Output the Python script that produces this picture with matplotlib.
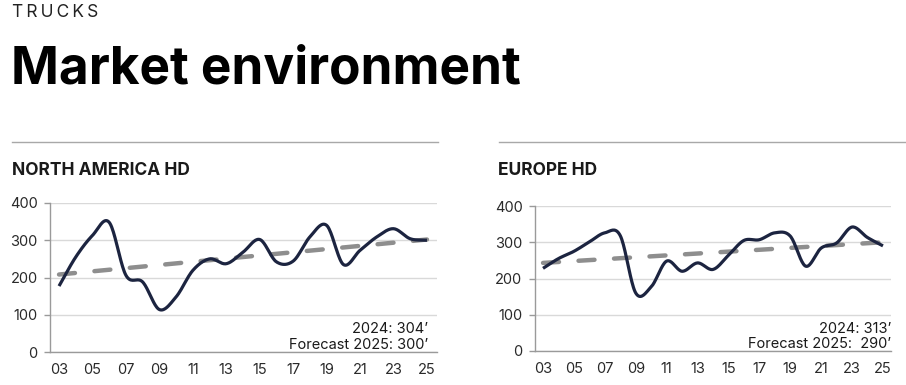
"""Trucks market environment: North America HD and Europe HD annual registrations with trend."""
import numpy as np
import matplotlib
matplotlib.use("Agg")
import matplotlib.pyplot as plt

plt.rcParams["font.family"] = ["Inter", "DejaVu Sans"]

YEARS = list(range(2003, 2026))
TICK_YEARS = list(range(2003, 2026, 2))
TICK_LABELS = [f"{y % 100:02d}" for y in TICK_YEARS]

# thousand units
NA_VALUES = [177, 255, 313, 348, 206, 188, 114, 148, 219, 250, 237, 268,
             302, 242, 244, 309, 340, 235, 273, 309, 331, 304, 300]
EU_VALUES = [228, 255, 275, 301, 326, 318, 160, 177, 248, 220, 243, 225,
             264, 305, 307, 326, 317, 234, 284, 298, 342, 313, 290]

NA_TREND = [208, 302]   # trend value at first and last year
EU_TREND = [243, 300]

NA_NOTES = ["2024: 304\u2019", "Forecast 2025: 300\u2019"]
EU_NOTES = ["2024: 313\u2019", "Forecast 2025:  290\u2019"]

NAVY = "#1c2440"
TREND_GREY = "#8e8e8e"
GRID_GREY = "#d9d9d9"
SPINE_GREY = "#9a9a9a"
TEXT = "#1a1a1a"

W, H = 906, 385


def smooth(xs, ys, n=20):
    # catmull-rom through the yearly points, like a smoothed office line chart
    xs = np.asarray(xs, float)
    ys = np.asarray(ys, float)
    px = np.concatenate([[2 * xs[0] - xs[1]], xs, [2 * xs[-1] - xs[-2]]])
    py = np.concatenate([[2 * ys[0] - ys[1]], ys, [2 * ys[-1] - ys[-2]]])
    out_x, out_y = [], []
    t = np.linspace(0, 1, n, endpoint=False)
    for i in range(1, len(px) - 2):
        for arr, out in ((px, out_x), (py, out_y)):
            p0, p1, p2, p3 = arr[i - 1], arr[i], arr[i + 1], arr[i + 2]
            out.extend(0.5 * ((2 * p1) + (-p0 + p2) * t
                              + (2 * p0 - 5 * p1 + 4 * p2 - p3) * t ** 2
                              + (-p0 + 3 * p1 - 3 * p2 + p3) * t ** 3))
    out_x.append(xs[-1])
    out_y.append(ys[-1])
    return np.array(out_x), np.array(out_y)


def draw_panel(ax, values, trend, notes, xlim, note_x):
    ax.set_xlim(*xlim)
    ax.set_ylim(0, 400)
    ax.set_yticks([0, 100, 200, 300, 400])
    ax.grid(axis="y", color=GRID_GREY, linewidth=1.0)
    ax.set_axisbelow(True)
    for side in ("top", "right"):
        ax.spines[side].set_visible(False)
    for side in ("left", "bottom"):
        ax.spines[side].set_color(SPINE_GREY)
        ax.spines[side].set_linewidth(1.0)

    ax.plot([YEARS[0], YEARS[-1]], trend, color=TREND_GREY, linewidth=3.2,
            dashes=(3.6, 4.4), dash_capstyle="round", zorder=2)
    sx, sy = smooth(YEARS, values)
    ax.plot(sx, sy, color=NAVY, linewidth=2.3, solid_capstyle="butt", zorder=3)

    ax.set_xticks(TICK_YEARS)
    ax.set_xticklabels(TICK_LABELS)
    ax.tick_params(axis="x", length=0, pad=8, labelsize=10.5, labelcolor="#2a2a2a")
    ax.tick_params(axis="y", length=4, width=1.0, color=SPINE_GREY, pad=5,
                   labelsize=10.5, labelcolor="#2a2a2a")

    ax.text(note_x, 0.105, notes[0], transform=ax.transAxes,
            ha="right", va="bottom", fontsize=10.5, color=TEXT)
    ax.text(note_x, 0.0, notes[1], transform=ax.transAxes,
            ha="right", va="bottom", fontsize=10.5, color=TEXT)


def main():
    fig = plt.figure(figsize=(W / 100, H / 100), dpi=100)

    fig.text(12 / W, 1 - 4 / H, "\u2009".join("TRUCKS"), ha="left", va="top",
             fontsize=12.5, color="#222222")
    fig.text(11 / W, 1 - 84 / H, "Market environment", ha="left", va="baseline",
             fontsize=37, fontweight="bold", color="#000000")

    # separators above each panel
    fig.add_artist(plt.Line2D([12 / W, 438 / W], [1 - 142 / H] * 2,
                              color="#a8a8a8", linewidth=1.0))
    fig.add_artist(plt.Line2D([499 / W, 1.0], [1 - 142 / H] * 2,
                              color="#a8a8a8", linewidth=1.0))

    fig.text(12 / W, 1 - 175 / H, "NORTH AMERICA HD", ha="left", va="baseline",
             fontsize=12.5, fontweight="bold", color=TEXT)
    fig.text(498 / W, 1 - 175 / H, "EUROPE HD", ha="left", va="baseline",
             fontsize=12.5, fontweight="bold", color=TEXT)

    ax_na = fig.add_axes([50 / W, 1 - 352 / H, 387 / W, 149 / H])
    draw_panel(ax_na, NA_VALUES, NA_TREND, NA_NOTES, (2002.46, 2025.6), 0.978)

    ax_eu = fig.add_axes([535 / W, 1 - 351 / H, 356 / W, 145 / H])
    draw_panel(ax_eu, EU_VALUES, EU_TREND, EU_NOTES, (2002.48, 2025.52), 1.0)

    fig.savefig("out.png", dpi=100)
    plt.close(fig)


if __name__ == "__main__":
    main()
